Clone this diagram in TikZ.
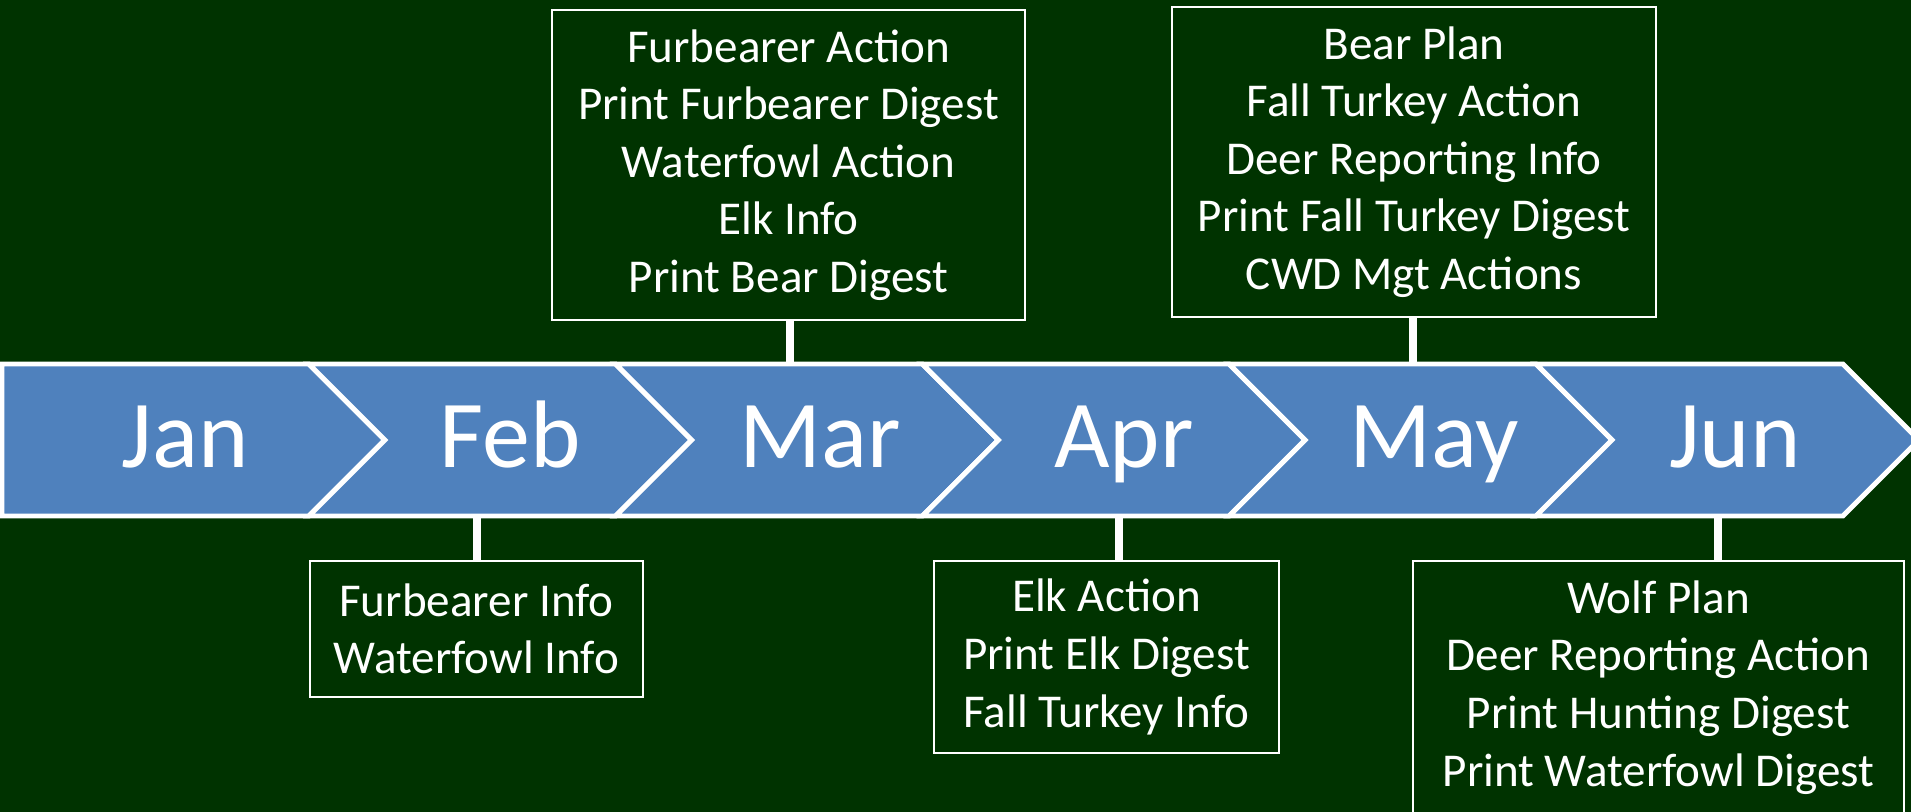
\documentclass[tikz,border=0pt]{standalone}
\usepackage{fontspec}
\setmainfont{Carlito}
\usepackage{tikz}
\usetikzlibrary{positioning}
\definecolor{bggreen}{RGB}{0,51,0}
\definecolor{chevblue}{RGB}{79,129,189}

\begin{document}
\begin{tikzpicture}[
    monthtext/.style={anchor=base, text=white, font=\fontsize{27.3pt}{32pt}\selectfont},
    taskbox/.style={shape=rectangle, draw=white, line width=0.5pt, fill=bggreen, text=white,
      inner sep=0pt, align=center, font=\fontsize{13.4pt}{16.4pt}\selectfont},
    stemline/.style={draw=white, line width=2.3pt},
    chevron/.style={fill=chevblue, draw=white, line width=1.4pt, line join=miter}
  ]
    \useasboundingbox (0,0) rectangle (19.11,-8.12);
    \fill[bggreen] (0,0) rectangle (19.11,-8.12);
    \clip (0,0) rectangle (19.11,-8.12);

    \node[taskbox, minimum width=4.73cm, minimum height=3.10cm] (marbox) at (7.885,-1.65)
      {Furbearer Action\\Print Furbearer Digest\\Waterfowl Action\\Elk Info\\Print Bear Digest};
    \node[taskbox, minimum width=4.84cm, minimum height=3.10cm] (maybox) at (14.14,-1.62)
      {Bear Plan\\Fall Turkey Action\\Deer Reporting Info\\Print Fall Turkey Digest\\CWD Mgt Actions};
    \node[taskbox, minimum width=3.33cm, minimum height=1.36cm] (febbox) at (4.765,-6.29)
      {Furbearer Info\\Waterfowl Info};
    \node[taskbox, minimum width=3.45cm, minimum height=1.92cm] (aprbox) at (11.065,-6.57)
      {Elk Action\\Print Elk Digest\\Fall Turkey Info};
    \node[taskbox, minimum width=4.91cm, minimum height=2.53cm] (junbox) at (16.585,-6.875)
      {Wolf Plan\\Deer Reporting Action\\Print Hunting Digest\\Print Waterfowl Digest};

    \coordinate (marstem) at (7.90,-3.64);
    \coordinate (maystem) at (14.13,-3.64);
    \coordinate (febstem) at (4.77,-5.16);
    \coordinate (aprstem) at (11.19,-5.16);
    \coordinate (junstem) at (17.18,-5.16);

    \draw[stemline] (marbox.south -| marstem) -- (marstem);
    \draw[stemline] (maybox.south -| maystem) -- (maystem);
    \draw[stemline] (febbox.north -| febstem) -- (febstem);
    \draw[stemline] (aprbox.north -| aprstem) -- (aprstem);
    \draw[stemline] (junbox.north -| junstem) -- (junstem);

    \foreach \m/\tx [count=\i from 0] in {Jan/1.85,Feb/5.10,Mar/8.20,Apr/11.24,May/14.34,Jun/17.35}{
      \pgfmathsetmacro{\xa}{0.02+3.068*\i}
      \pgfmathsetmacro{\nd}{\i==0 ? 0 : 0.76}
      \draw[chevron] (\xa,-3.64) -- ++(3.068,0) -- ++(0.76,-0.76) -- ++(-0.76,-0.76)
        -- ++(-3.068,0) -- ++(\nd,0.76) -- cycle;
      \node[monthtext] (\m) at (\tx,-4.68) {\m};
    }
\end{tikzpicture}
\end{document}
